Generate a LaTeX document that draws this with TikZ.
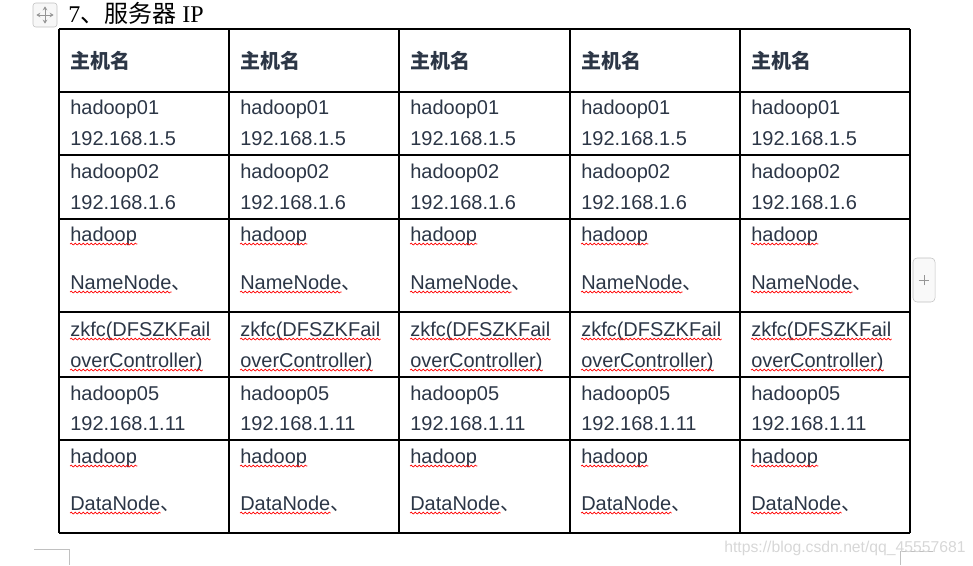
\documentclass[tikz,border=0pt]{standalone}
\usepackage{fontspec}
\setmainfont{Liberation Sans}
\newfontfamily\cjk{Noto Sans CJK SC}
\newfontfamily\titlefont{Liberation Serif}
\usetikzlibrary{arrows.meta, decorations.pathmorphing}
\definecolor{cellcolor}{RGB}{44, 54, 70}
\definecolor{markcolor}{RGB}{150, 150, 150}
\definecolor{wmcolor}{RGB}{215, 215, 215}

\tikzset{
    cell/.style={anchor=base west, inner sep=0pt, font=\fontsize{15}{18}\selectfont, text=cellcolor},
    head/.style={cell, font=\cjk\bfseries\fontsize{15}{18}\selectfont},
    pausemark/.style={cell, font=\cjk\fontsize{15}{18}\selectfont},
    grid/.style={line width=1pt, black},
    wavy/.style={red, line width=0.5pt, decorate, decoration={snake, amplitude=0.7pt, segment length=3pt}},
}

\begin{document}
\begin{tikzpicture}[x=0.75pt, y=-0.75pt]
    \useasboundingbox (0,0) rectangle (973,565);

    % Title
    \node[draw=markcolor!60, fill=gray!6, rounded corners=2pt, minimum width=18pt, minimum height=18pt] (move) at (45,15) {};
    \draw[markcolor, line width=0.6pt, {Stealth[length=3pt, width=3.5pt]}-{Stealth[length=3pt, width=3.5pt]}] ([xshift=-6.5pt]move.center) -- ([xshift=6.5pt]move.center);
    \draw[markcolor, line width=0.6pt, {Stealth[length=3pt, width=3.5pt]}-{Stealth[length=3pt, width=3.5pt]}] ([yshift=-6.5pt]move.center) -- ([yshift=6.5pt]move.center);
    \node[anchor=base west, inner sep=0pt, font=\titlefont\fontsize{18}{21}\selectfont] (title) at (68,22) {7{\cjk 、服务器} IP};

    % Grid
    \foreach \x in {59,229,399,570,740,910}
        \draw[grid] (\x,29) -- (\x,533);
    \foreach \y in {29,92,155,219,312,377,440,533}
        \draw[grid] (59,\y) -- (910,\y);

    % Cells
    \foreach \c/\x in {1/70,2/240,3/410,4/581,5/751} {
        \node[head] (head\c) at (\x,68) {主机名};
        \node[cell] (hostA\c) at (\x,114) {hadoop01};
        \node[cell] (ipA\c) at (\x,145) {192.168.1.5};
        \node[cell] (hostB\c) at (\x,178) {hadoop02};
        \node[cell] (ipB\c) at (\x,209) {192.168.1.6};
        \node[cell] (roleA\c) at (\x,241) {hadoop};
        \node[cell] (nameA\c) at (\x,289) {NameNode};
        \node[pausemark] (sepA\c) at (nameA\c.base east) {、};
        \node[cell] (zkA\c) at (\x,336) {zkfc(DFSZKFail};
        \node[cell] (zkB\c) at (\x,367) {overController)};
        \node[cell] (hostC\c) at (\x,400) {hadoop05};
        \node[cell] (ipC\c) at (\x,430) {192.168.1.11};
        \node[cell] (roleB\c) at (\x,463) {hadoop};
        \node[cell] (dataB\c) at (\x,510) {DataNode};
        \node[pausemark] (sepB\c) at (dataB\c.base east) {、};
        % spelling marks
        \foreach \w in {roleA,nameA,zkA,zkB,roleB,dataB}
            \draw[wavy] ([yshift=-2.3pt]\w\c.base west) -- ([yshift=-2.3pt]\w\c.base east);
    }

    % Side tab
    \node[draw=markcolor!60, fill=gray!5, rounded corners=3pt, minimum width=16.5pt, minimum height=33pt] (tab) at (924,280) {};
    \draw[markcolor, line width=0.7pt] ([xshift=-4pt]tab.center) -- ([xshift=4pt]tab.center);
    \draw[markcolor, line width=0.7pt] ([yshift=-4pt]tab.center) -- ([yshift=4pt]tab.center);

    % Page corners
    \draw[markcolor!60] (34,549) -- (69,549) -- (69,565);
    \draw[markcolor!60] (933,551) -- (900,551) -- (900,565);

    % Watermark
    \node[anchor=base east, inner sep=0pt, text=wmcolor, font=\fontsize{11.8}{14}\selectfont] (wm) at (966,552) {https://blog.csdn.net/qq\_45557681};
\end{tikzpicture}
\end{document}
